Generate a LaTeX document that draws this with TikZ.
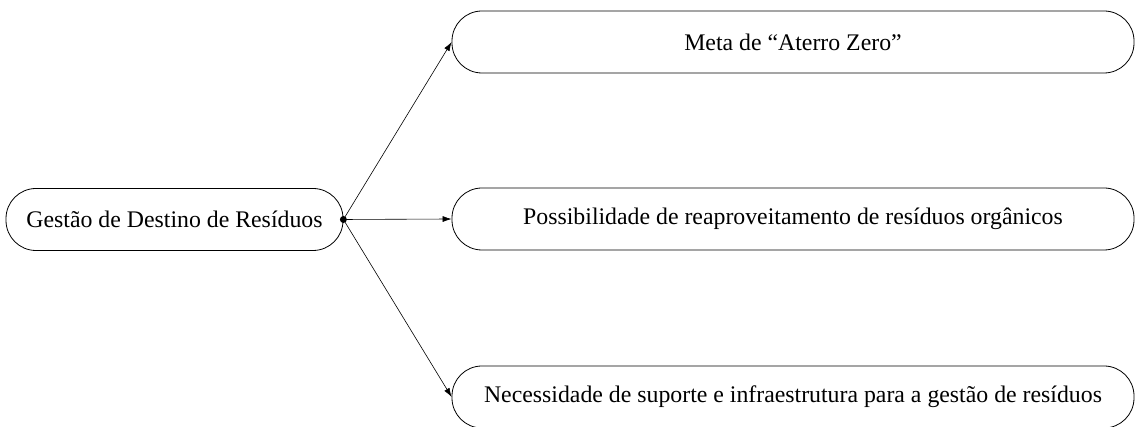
\documentclass[tikz,border=0pt]{standalone}
\usepackage{fontspec}
\setmainfont{Liberation Serif}
\usetikzlibrary{arrows.meta}

\tikzset{
  pill/.style={draw, line width=0.8pt, rounded corners=30pt, minimum height=62pt,
    inner sep=0pt, font=\fontsize{23.8}{28}\selectfont},
  link/.style={-{Latex[length=9pt,width=6pt]}, line width=0.6pt}
}

\begin{document}
\begin{tikzpicture}[x=1pt,y=1pt]
    \useasboundingbox (0,0) rectangle (1135,427);
    % Source node
    \node[pill, minimum width=337pt] (gestao) at (174.5,207.5) {Gestão de Destino de Resíduos};
    % Target nodes
    \node[pill, minimum width=682pt] (meta) at (793,385) {Meta de “Aterro Zero”};
    \node[pill, minimum width=682pt] (reap) at (793,208) {Possibilidade de reaproveitamento de resíduos orgânicos};
    \node[pill, minimum width=682pt] (supo) at (793,30) {Necessidade de suporte e infraestrutura para a gestão de resíduos};
    % Branch point and arrows
    \fill (gestao.east) circle (3.5pt);
    \draw[link] (gestao.east) -- (meta.west);
    \draw[link] (gestao.east) -- (reap.west);
    \draw[link] (gestao.east) -- (supo.west);
\end{tikzpicture}
\end{document}
